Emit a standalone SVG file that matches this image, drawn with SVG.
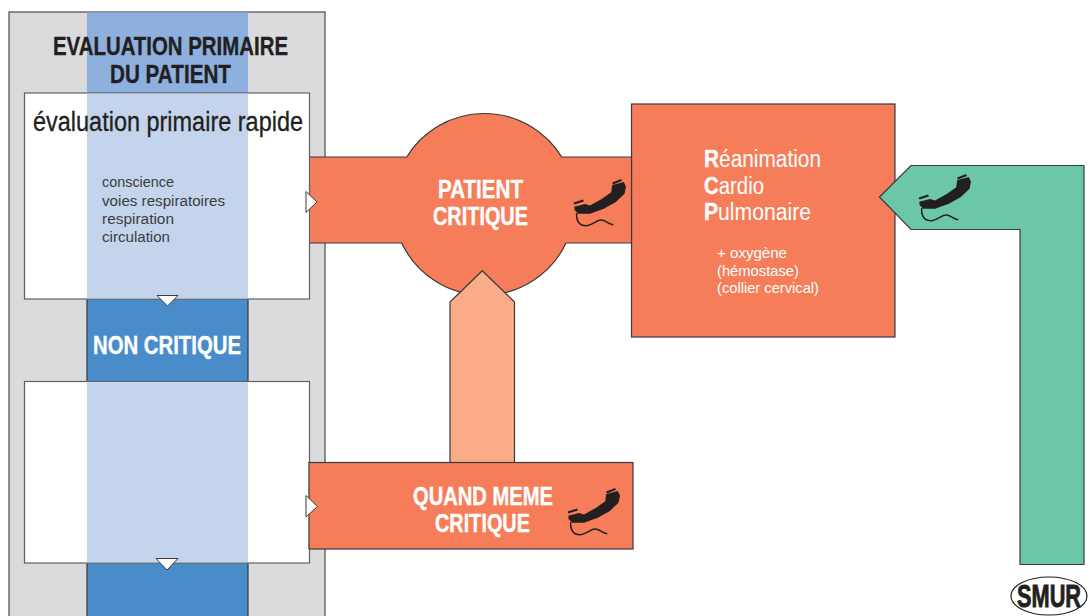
<svg xmlns="http://www.w3.org/2000/svg" xmlns:xlink="http://www.w3.org/1999/xlink" width="1092" height="616" viewBox="0 0 1092 616">
<style>
text{font-family:"Liberation Sans Narrow","Liberation Sans",Arial,sans-serif;fill:#231f20}
.b{font-weight:700;stroke:#231f20;stroke-width:.35}
.w{fill:#fff;stroke:#fff}
.h{stroke:#231f20;stroke-width:.3}
.s{stroke:#3b3a3c;stroke-width:1.2}
.o{fill:#f67d5a}
.body{font-size:15.500px;fill:#3d3d40}
.sm{font-size:15px;fill:#fff}
.lg{font-size:23px;fill:#fff}
.tri{fill:#fff;stroke:#3b3a3c;stroke-width:1}
</style>
<defs>
<g id="phone">
<path fill="#231f20" d="M574.300,206.700L585,204L590,205.500L601.700,199L611.200,192.200L612.200,185L623.800,182L626,186.700L624.500,193.800L615.500,202.200L603.800,208.800L590,213.800L578.300,213.800L574.500,210Z"/>
<path fill="none" stroke="#231f20" stroke-width="2.200" d="M574,203.500L583.500,200.500M612.500,183.500L621.500,180"/>
<path fill="none" stroke="#231f20" stroke-width="1.500" d="M576.700,213C576,221.700 580,226 586.700,225.700C595,224 596.700,219.300 601.700,220C606.700,221 608.300,224 613.300,224.700"/>
</g>
</defs>
<rect width="1092" height="616" fill="#fff"/>
<g id="panel">
<rect x="9" y="12" width="316" height="610" fill="#dadbdd" stroke="#4a4a4c" stroke-width="1.2"/>
<rect x="87" y="12.500" width="161" height="81" fill="#8db0de"/>
<text class="b" x="53" y="55" font-size="25" textLength="235" lengthAdjust="spacingAndGlyphs">EVALUATION PRIMAIRE</text>
<text class="b" x="110" y="83" font-size="25" textLength="121" lengthAdjust="spacingAndGlyphs">DU PATIENT</text>
</g>
<g id="rcp">
<rect x="631.500" y="104" width="263.500" height="233" class="o s"/>
<text class="lg" x="704" y="167" textLength="117" lengthAdjust="spacingAndGlyphs"><tspan class="b w">R</tspan>éanimation</text>
<text class="lg" x="704" y="194" textLength="60" lengthAdjust="spacingAndGlyphs"><tspan class="b w">C</tspan>ardio</text>
<text class="lg" x="704" y="220" textLength="107" lengthAdjust="spacingAndGlyphs"><tspan class="b w">P</tspan>ulmonaire</text>
<text class="sm" x="717" y="258" textLength="70" lengthAdjust="spacingAndGlyphs">+ oxygène</text>
<text class="sm" x="717" y="276" textLength="82" lengthAdjust="spacingAndGlyphs">(hémostase)</text>
<text class="sm" x="717" y="293" textLength="102" lengthAdjust="spacingAndGlyphs">(collier cervical)</text>
</g>
<g id="connectors">
<path id="to-rcp" class="o s" d="M309,157H406.700A90.800,90.800 0 0 1 561.700,157H631.500V243H566A90.800,90.800 0 0 1 401.700,243H309Z"/>
<path id="quand-meme-arrow" fill="#f9ac87" class="s" d="M482.300,270.700L514.500,302V463H450V302Z"/>
<path id="smur-arrow" fill="#6cc6a8" class="s" d="M879.500,197L911,165.500H1084V564.500H1020V229.500H911Z"/>
</g>
<g id="non-critique">
<rect x="87" y="298" width="161" height="84" fill="#4a8cca" class="s"/>
<text class="b w" x="93" y="354" font-size="25" textLength="148" lengthAdjust="spacingAndGlyphs">NON CRITIQUE</text>
</g>
<g id="suite">
<rect x="87" y="562" width="161" height="60" fill="#4a8cca" class="s"/>
</g>
<g id="evaluation-rapide">
<rect x="24.500" y="93" width="285" height="206" fill="#fff" stroke="#616164" stroke-width="1.2"/>
<rect x="87" y="93.700" width="161" height="204.600" fill="#c4d4ec"/>
<text class="h" x="33" y="131" font-size="27" textLength="270" lengthAdjust="spacingAndGlyphs">évaluation primaire rapide</text>
<text class="body" x="102" y="187" textLength="72" lengthAdjust="spacingAndGlyphs">conscience</text>
<text class="body" x="102" y="205.500" textLength="123" lengthAdjust="spacingAndGlyphs">voies respiratoires</text>
<text class="body" x="102" y="223.500" textLength="72" lengthAdjust="spacingAndGlyphs">respiration</text>
<text class="body" x="102" y="241.500" textLength="68" lengthAdjust="spacingAndGlyphs">circulation</text>
</g>
<g id="evaluation-secondaire">
<rect x="24.500" y="381.500" width="285" height="181.500" fill="#fff" stroke="#616164" stroke-width="1.2"/>
<rect x="87" y="382.200" width="161" height="180" fill="#c4d4ec"/>
</g>
<g id="patient-critique">
<text class="b w" x="438" y="198" font-size="25" textLength="85" lengthAdjust="spacingAndGlyphs">PATIENT</text>
<text class="b w" x="433" y="225" font-size="25" textLength="95" lengthAdjust="spacingAndGlyphs">CRITIQUE</text>
<use xlink:href="#phone" href="#phone"/>
</g>
<g id="quand-meme-critique">
<rect x="309" y="462.500" width="324" height="86.500" class="o s"/>
<text class="b w" x="413" y="505" font-size="25" textLength="140" lengthAdjust="spacingAndGlyphs">QUAND MEME</text>
<text class="b w" x="435" y="532" font-size="25" textLength="95" lengthAdjust="spacingAndGlyphs">CRITIQUE</text>
<use xlink:href="#phone" href="#phone" transform="translate(-6,309)"/>
</g>
<g id="phone-smur">
<use xlink:href="#phone" href="#phone" transform="translate(345,-5)"/>
</g>
<g id="markers">
<path class="tri" d="M306,191.500L317,202L306,212.500Z"/>
<path class="tri" d="M157,295.500H178L167.500,306Z"/>
<path class="tri" d="M306,495.500L317.500,506.500L306,517Z"/>
<path class="tri" d="M156,558.500H178L167,570Z"/>
</g>
<g id="smur">
<ellipse cx="1049" cy="596" rx="38" ry="19" fill="#fff" stroke="#231f20" stroke-width="1.200"/>
<text class="b" transform="translate(1017,606.500) scale(.68,1)" font-size="32" style="stroke-width:.9">SMUR</text>
</g>
</svg>
